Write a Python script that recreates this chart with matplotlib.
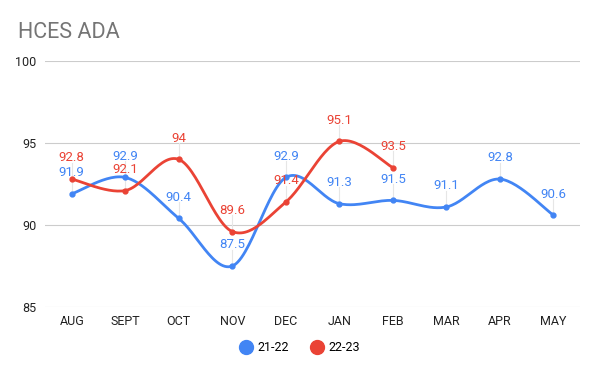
import numpy as np
import matplotlib.pyplot as plt

months = ['AUG', 'SEPT', 'OCT', 'NOV', 'DEC', 'JAN', 'FEB', 'MAR', 'APR', 'MAY']
s2122 = [91.9, 92.9, 90.4, 87.5, 92.9, 91.3, 91.5, 91.1, 92.8, 90.6]
s2223 = [92.8, 92.1, 94, 89.6, 91.4, 95.1, 93.5]
yticks = [85, 90, 95, 100]

BLUE = '#4285F4'
RED = '#EA4335'

plt.rcParams['font.family'] = ['Roboto', 'DejaVu Sans']


def smooth(xs, ys, n=30, k=1/6):
    """Catmull-Rom style bezier through the points."""
    xs = np.asarray(xs, float)
    ys = np.asarray(ys, float)
    px, py = [], []
    m = len(xs)
    for i in range(m - 1):
        i0 = max(i - 1, 0)
        i3 = min(i + 2, m - 1)
        c1 = (xs[i] + (xs[i + 1] - xs[i0]) * k, ys[i] + (ys[i + 1] - ys[i0]) * k)
        c2 = (xs[i + 1] - (xs[i3] - xs[i]) * k, ys[i + 1] - (ys[i3] - ys[i]) * k)
        t = np.linspace(0, 1, n)
        a = (1 - t) ** 3
        b = 3 * (1 - t) ** 2 * t
        c = 3 * (1 - t) * t ** 2
        d = t ** 3
        px.extend(a * xs[i] + b * c1[0] + c * c2[0] + d * xs[i + 1])
        py.extend(a * ys[i] + b * c1[1] + c * c2[1] + d * ys[i + 1])
    return px, py


fig = plt.figure(figsize=(6, 3.71), dpi=100)
ax = fig.add_axes([0.075, 0.1725, 0.892, 0.6631])

for vals, col, lab in [(s2122, BLUE, '21-22'), (s2223, RED, '22-23')]:
    x = np.arange(len(vals))
    sx, sy = smooth(x, vals)
    ax.plot(sx, sy, color=col, lw=2, zorder=3, solid_capstyle='round')
    ax.plot(x, vals, 'o', color=col, ms=3.5, zorder=4)
    ax.plot([], [], 'o', color=col, ms=10, label=lab)
    for xi, v in zip(x, vals):
        ax.annotate(f'{v:g}', (xi, v), xytext=(0, 10.5), textcoords='offset points',
                    ha='center', va='bottom', fontsize=9.5, color=col, zorder=5)
        ax.plot([xi, xi], [v, v + 1.0], color='#e6e6e6', lw=0.8, zorder=2)

ax.set_xlim(-0.5, 9.5)
ax.set_ylim(85, 100)
ax.set_yticks(yticks)
ax.set_xticks(range(len(months)))
ax.set_xticklabels(months)
ax.tick_params(length=0, labelsize=9, colors='#222222', pad=6)
ax.tick_params(axis='y', pad=6)
ax.grid(axis='y', color='#cccccc', lw=0.8)
ax.set_axisbelow(True)
for s in ax.spines.values():
    s.set_visible(False)

fig.text(0.03, 0.912, 'HCES ADA', fontsize=15.5, color='#757575', ha='left', va='center')

fig.legend(loc='lower center', bbox_to_anchor=(0.5, 0.015), ncol=2, frameon=False,
           fontsize=9, handletextpad=0.4, columnspacing=1.8, handlelength=1.0)

fig.savefig('out.png', dpi=100)
